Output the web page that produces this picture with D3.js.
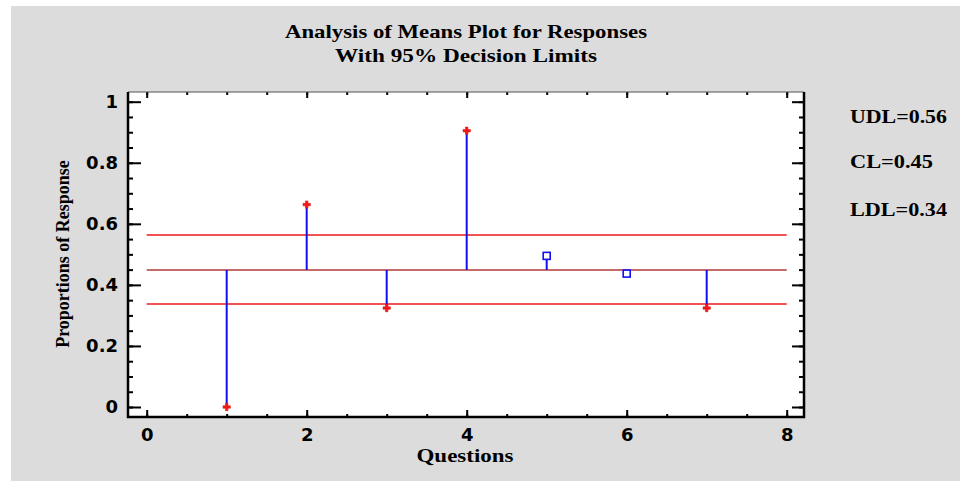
<!DOCTYPE html>
<html>
<head>
<meta charset="utf-8">
<script src="https://cdn.jsdelivr.net/npm/d3@7"></script>
<style>
  body { margin: 0; background: #fff; }
</style>
</head>
<body>
<svg width="960" height="481"></svg>
<script>
// data
const questions = [1, 2, 3, 4, 5, 6, 7];
const proportions = [0.0, 0.663, 0.324, 0.905, 0.495, 0.437, 0.324];
const limitNames = ['UDL', 'CL', 'LDL'];
const limitValues = [0.563, 0.449, 0.337];
const limitLabels = ['UDL=0.56', 'CL=0.45', 'LDL=0.34'];
const xTicks = [0, 2, 4, 6, 8];
const yTicks = [0, 0.2, 0.4, 0.6, 0.8, 1];

const svg = d3.select('svg');

// gray backdrop
svg.append('rect').attr('x', 11).attr('y', 6).attr('width', 949).attr('height', 475)
   .attr('fill', '#dcdcdc');

// plot frame
const frame = {left: 128, right: 804, top: 92, bottom: 417};
svg.append('rect').attr('x', frame.left).attr('y', frame.top)
   .attr('width', frame.right - frame.left).attr('height', frame.bottom - frame.top)
   .attr('fill', '#fff');

const x = d3.scaleLinear().domain([0, 8]).range([146.7, 786.7]);
const y = d3.scaleLinear().domain([0, 1]).range([407, 101.7]);

const tickFont = g => g.selectAll('text')
   .style('font-family', '"DejaVu Sans", sans-serif')
   .style('font-weight', 'bold').style('font-size', '18px').attr('fill', '#000');
const noDomain = g => g.select('.domain').remove();

// minor ticks
const minorY = d3.range(0, 1.001, 0.05);
const minorX = d3.range(0, 8.001, 0.5);

svg.append('g').attr('transform', `translate(${frame.left},0)`)
   .call(d3.axisRight(y).tickValues(minorY).tickSize(5).tickFormat(''))
   .call(noDomain);
svg.append('g').attr('transform', `translate(${frame.right},0)`)
   .call(d3.axisLeft(y).tickValues(minorY).tickSize(5).tickFormat(''))
   .call(noDomain);
svg.append('g').attr('transform', `translate(0,${frame.bottom})`)
   .call(d3.axisTop(x).tickValues(minorX).tickSize(3).tickFormat(''))
   .call(noDomain);
svg.append('g').attr('transform', `translate(0,${frame.top})`)
   .call(d3.axisBottom(x).tickValues(minorX).tickSize(3).tickFormat(''))
   .call(noDomain);

// major ticks with labels
svg.append('g').attr('transform', `translate(${frame.left},0)`)
   .call(d3.axisLeft(y).tickValues(yTicks).tickSizeInner(-13).tickSizeOuter(0)
        .tickPadding(10).tickFormat(d3.format('~g')))
   .call(noDomain).call(tickFont);
svg.append('g').attr('transform', `translate(${frame.right},0)`)
   .call(d3.axisLeft(y).tickValues(yTicks).tickSize(12).tickFormat(''))
   .call(noDomain);
svg.append('g').attr('transform', `translate(0,${frame.bottom})`)
   .call(d3.axisBottom(x).tickValues(xTicks).tickSizeInner(-7).tickSizeOuter(0)
        .tickPadding(11))
   .call(noDomain).call(tickFont);
svg.append('g').attr('transform', `translate(0,${frame.top})`)
   .call(d3.axisBottom(x).tickValues(xTicks).tickSize(6).tickFormat(''))
   .call(noDomain);

svg.selectAll('.tick line').attr('stroke', '#000').attr('stroke-width', 2);

// frame lines
svg.append('line').attr('x1', frame.left).attr('x2', frame.right)
   .attr('y1', frame.top).attr('y2', frame.top).attr('stroke', '#555').attr('stroke-width', 1);
svg.append('path')
   .attr('d', `M${frame.left},${frame.top}V${frame.bottom}H${frame.right}V${frame.top}`)
   .attr('fill', 'none').attr('stroke', '#000').attr('stroke-width', 2.5);

// decision limits
svg.selectAll('.limit').data(limitValues).join('line')
   .attr('class', 'limit')
   .attr('x1', x(0)).attr('x2', x(8))
   .attr('y1', d => y(d)).attr('y2', d => y(d))
   .attr('stroke', (d, i) => limitNames[i] === 'CL' ? '#b03a3a' : '#f01818')
   .attr('stroke-width', 1.5);

// stems from the centre line
const cl = limitValues[1];
const points = questions.map((q, i) => ({q, p: proportions[i],
   out: proportions[i] > limitValues[0] || proportions[i] < limitValues[2]}));

svg.selectAll('.stem').data(points).join('line')
   .attr('class', 'stem')
   .attr('x1', d => x(d.q)).attr('x2', d => x(d.q))
   .attr('y1', y(cl)).attr('y2', d => y(d.p))
   .attr('stroke', '#1010f0').attr('stroke-width', 2);

// markers
svg.selectAll('.out').data(points.filter(d => d.out)).join('path')
   .attr('class', 'out')
   .attr('transform', d => `translate(${x(d.q)},${y(d.p)})`)
   .attr('d', d3.symbol(d3.symbolCross, 30))
   .attr('fill', '#f01818').attr('stroke', '#f01818').attr('stroke-width', 0.6);
svg.selectAll('.in').data(points.filter(d => !d.out)).join('rect')
   .attr('class', 'in')
   .attr('x', d => x(d.q) - 3.5).attr('y', d => y(d.p) - 3.5)
   .attr('width', 7).attr('height', 7)
   .attr('fill', '#fff').attr('stroke', '#1010f0').attr('stroke-width', 1.6);

// texts
const serif = s => s.style('font-family', '"Liberation Serif", "Times New Roman", serif')
   .style('font-weight', 'bold').attr('fill', '#000');

svg.append('text').attr('x', 466).attr('y', 38).attr('text-anchor', 'middle')
   .style('font-size', '19px').attr('textLength', 362).attr('lengthAdjust', 'spacingAndGlyphs')
   .text('Analysis of Means Plot for Responses').call(serif);
svg.append('text').attr('x', 466).attr('y', 62).attr('text-anchor', 'middle')
   .style('font-size', '19px').attr('textLength', 262).attr('lengthAdjust', 'spacingAndGlyphs')
   .text('With 95%  Decision Limits').call(serif);

svg.append('text').attr('x', 465).attr('y', 462).attr('text-anchor', 'middle')
   .style('font-size', '18px').attr('textLength', 97).attr('lengthAdjust', 'spacingAndGlyphs')
   .text('Questions').call(serif);

svg.append('text').attr('transform', 'translate(69,254) rotate(-90)').attr('text-anchor', 'middle')
   .style('font-size', '18px')
   .text('Proportions of Response').call(serif);

const legendY = [123, 168, 216];
const legendW = [97, 83, 97];
svg.selectAll('.lim-label').data(limitLabels).join('text')
   .attr('class', 'lim-label')
   .attr('x', 850).attr('y', (d, i) => legendY[i])
   .style('font-size', '18px')
   .attr('textLength', (d, i) => legendW[i]).attr('lengthAdjust', 'spacingAndGlyphs')
   .text(d => d).call(serif);
</script>
</body>
</html>
